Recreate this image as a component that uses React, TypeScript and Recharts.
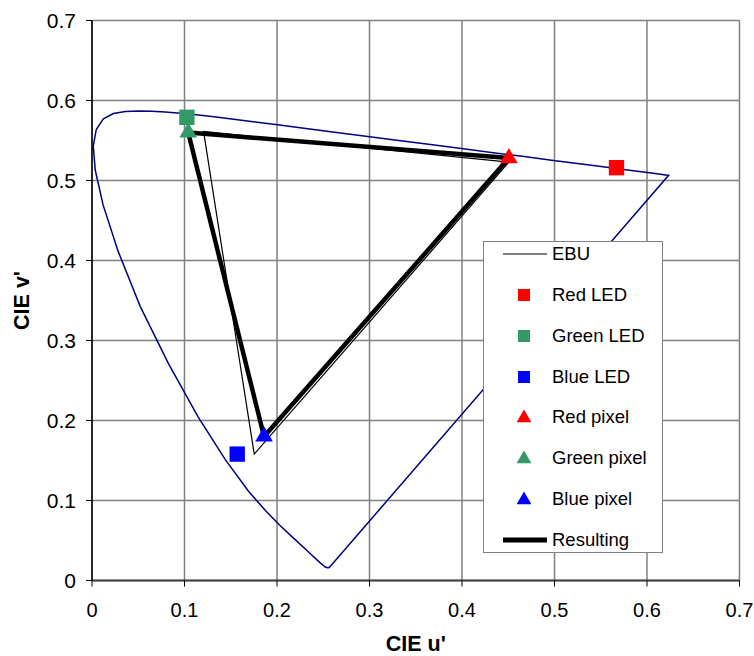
import React from 'react';
import { ComposedChart, Line, Scatter, XAxis, YAxis, CartesianGrid, Legend, Symbols } from 'recharts';

// CIE 1976 u'v' spectral locus, 380 -> 700 nm, closed back to 380 nm by the purple line
const locusU = [
  0.2568, 0.2557, 0.2545, 0.2522, 0.2461, 0.2347, 0.2161, 0.2033, 0.1877, 0.169, 0.1441, 0.1147,
  0.0828, 0.0521, 0.0282, 0.0119, 0.0035, 0.0014, 0.0046, 0.0123, 0.0231, 0.036, 0.0501, 0.0643,
  0.0792, 0.0953, 0.1127, 0.1319, 0.1531, 0.1766, 0.2026, 0.2312, 0.2623, 0.296, 0.3315, 0.3681,
  0.4035, 0.4379, 0.4692, 0.4968, 0.5203, 0.5399, 0.5565, 0.583, 0.6005, 0.6109, 0.6199, 0.6234,
  0.2568,
];
const locusV = [
  0.0166, 0.0159, 0.0159, 0.0169, 0.0226, 0.035, 0.0549, 0.0688, 0.0871, 0.1119, 0.151, 0.2044,
  0.2708, 0.3427, 0.4117, 0.4698, 0.5131, 0.5432, 0.5638, 0.577, 0.5837, 0.5861, 0.5868, 0.5865,
  0.5856, 0.5841, 0.5821, 0.5796, 0.5766, 0.5732, 0.5694, 0.5651, 0.5604, 0.5554, 0.5501, 0.5446,
  0.5393, 0.5342, 0.5296, 0.5254, 0.5219, 0.519, 0.5165, 0.5125, 0.5099, 0.5084, 0.507, 0.5065,
  0.0166,
];

// EBU primaries R, G, B (closed)
const ebuU = [0.4507, 0.1206, 0.1754, 0.4507];
const ebuV = [0.5229, 0.5613, 0.1579, 0.5229];

const ledNames = ['Red LED', 'Green LED', 'Blue LED'];
const ledU = [0.567, 0.1026, 0.157];
const ledV = [0.516, 0.579, 0.158];

const pixelNames = ['Red pixel', 'Green pixel', 'Blue pixel'];
const pixelU = [0.4507, 0.104, 0.186];
const pixelV = [0.528, 0.56, 0.18];

const primaryColors = ['#FF0000', '#339966', '#0000FF'];
const axisTicks = [0, 0.1, 0.2, 0.3, 0.4, 0.5, 0.6, 0.7];
const legendOrder = ['EBU', ...ledNames, ...pixelNames, 'Resulting'];

const toPoints = (us: number[], vs: number[]) => us.map((u, i) => ({ u, v: vs[i] }));
const locus = toPoints(locusU, locusV);
const ebu = toPoints(ebuU, ebuV);
const resulting = toPoints([...pixelU, pixelU[0]], [...pixelV, pixelV[0]]);

const FONT = '"Liberation Sans", Arial, sans-serif';

const squareShape = (p: any) => <Symbols cx={p.cx} cy={p.cy} type="square" size={236} fill={p.fill} />;
const triangleShape = (p: any) => <Symbols cx={p.cx} cy={p.cy} type="triangle" size={135} fill={p.fill} />;

const LegendBox = ({ payload }: any) => {
  const items = (payload || [])
    .filter((a: any) => legendOrder.includes(a.value))
    .sort((a: any, b: any) => legendOrder.indexOf(a.value) - legendOrder.indexOf(b.value));
  return (
    <div
      style={{
        boxSizing: 'border-box',
        width: 180,
        height: 312,
        border: '1.5px solid #808080',
        background: '#fff',
        padding: '2px 0',
        display: 'flex',
        flexDirection: 'column',
        justifyContent: 'space-between',
        fontFamily: FONT,
      }}
    >
      {items.map((item: any) => (
        <div key={item.value} style={{ height: 20, display: 'flex', alignItems: 'center' }}>
          <svg width={46} height={20} style={{ marginLeft: 17, flex: 'none' }}>
            {item.type === 'line' ? (
              <line x1={2} x2={46} y1={10} y2={10} stroke={item.color}
                strokeWidth={item.value === 'Resulting' ? 5 : 1.2} />
            ) : (
              <Symbols cx={23} cy={item.type === 'triangle' ? 11 : 10} type={item.type}
                size={item.type === 'triangle' ? 95 : 144} fill={item.color} />
            )}
          </svg>
          <span style={{ marginLeft: 5, fontSize: 18.5, lineHeight: '20px', color: '#000' }}>
            {item.value}
          </span>
        </div>
      ))}
    </div>
  );
};

export default function App() {
  return (
    <div style={{ position: 'absolute', left: 0, top: 0, fontFamily: FONT, background: '#fff', width: 754, height: 656 }}>
      <style>{'.recharts-wrapper, .recharts-surface { overflow: visible !important; }'}</style>
      <ComposedChart width={754} height={656} margin={{ top: 20.5, right: 14.5, bottom: 0, left: 0 }}>
        <CartesianGrid stroke="#808080" strokeWidth={1.5} />
        <XAxis
          type="number"
          dataKey="u"
          domain={[0, 0.7]}
          ticks={axisTicks}
          interval={0}
          height={75.5}
          tickSize={6}
          tickMargin={16.5}
          tick={{ fontSize: 20, fill: '#000' }}
          axisLine={{ stroke: '#404040', strokeWidth: 2 }}
          tickLine={{ stroke: '#000' }}
          label={{ value: "CIE u'", position: 'insideBottom', offset: 5, fontSize: 21.5, fontWeight: 700, fill: '#000' }}
        />
        <YAxis
          type="number"
          dataKey="v"
          domain={[0, 0.7]}
          ticks={axisTicks}
          interval={0}
          width={92}
          tickSize={6}
          tickMargin={10}
          tick={{ fontSize: 21, fill: '#000' }}
          axisLine={{ stroke: '#000', strokeWidth: 1.5 }}
          tickLine={{ stroke: '#000' }}
          label={{
            value: "CIE v'",
            angle: -90,
            position: 'insideLeft',
            offset: 21,
            fontSize: 21.5,
            fontWeight: 700,
            fill: '#000',
            style: { textAnchor: 'middle' },
          }}
        />
        <Legend layout="vertical" align="center" verticalAlign="middle" content={<LegendBox />}
          wrapperStyle={{ left: 483, top: 241, width: 180, height: 312 }} />

        <Line data={locus} dataKey="v" name="Locus" type="linear" stroke="#000080" strokeWidth={1.5}
          dot={false} activeDot={false} legendType="none" isAnimationActive={false} />
        <Line data={ebu} dataKey="v" name="EBU" type="linear" stroke="#000" strokeWidth={1.2}
          dot={false} activeDot={false} legendType="line" isAnimationActive={false} />
        <Line data={resulting} dataKey="v" name="Resulting" type="linear" stroke="#000" strokeWidth={4.5}
          dot={false} activeDot={false} legendType="line" isAnimationActive={false} />

        {ledNames.map((name, i) => (
          <Scatter key={name} name={name} data={[{ u: ledU[i], v: ledV[i] }]}
            shape={squareShape} legendType="square" fill={primaryColors[i]} isAnimationActive={false} />
        ))}
        {pixelNames.map((name, i) => (
          <Scatter key={name} name={name} data={[{ u: pixelU[i], v: pixelV[i] }]}
            shape={triangleShape} legendType="triangle" fill={primaryColors[i]} isAnimationActive={false} />
        ))}
      </ComposedChart>
    </div>
  );
}
